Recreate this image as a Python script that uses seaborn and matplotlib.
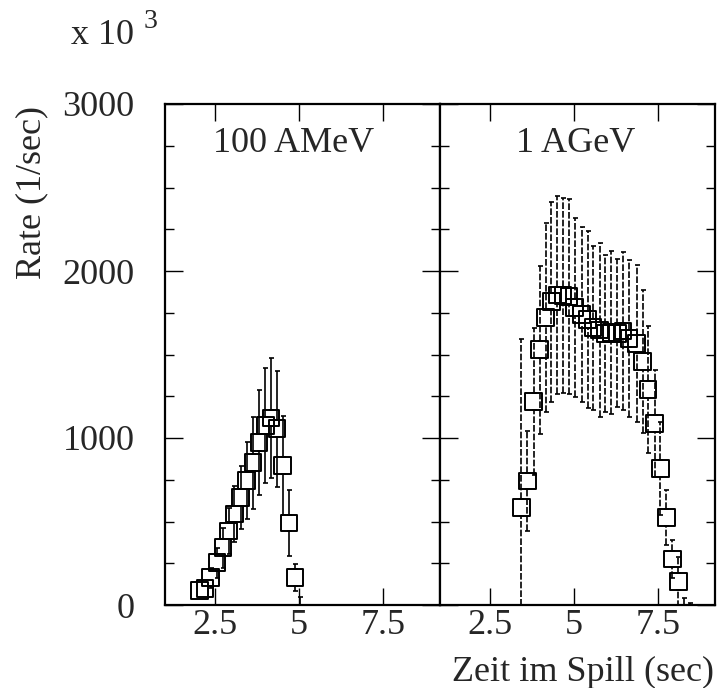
import numpy as np
import pandas as pd
import matplotlib
matplotlib.use("Agg")
import matplotlib.pyplot as plt
import seaborn as sns
from matplotlib.ticker import MultipleLocator, FixedLocator

# ---------------- data ----------------
time_100 = [2.02, 2.19, 2.36, 2.55, 2.73, 2.90, 3.07, 3.26, 3.44, 3.62,
            3.80, 3.99, 4.16, 4.34, 4.51, 4.70, 4.88, 5.03]
rate_100 = [86, 100, 163, 253, 343, 443, 545, 643, 744, 852,
            974, 1074, 1120, 1056, 834, 491, 163, 0]
err_100 = [40, 45, 60, 90, 120, 140, 165, 190, 230, 275,
           316, 346, 359, 347, 297, 196, 82, 48]

time_1g = [3.43, 3.60, 3.79, 3.97, 4.15, 4.32, 4.50, 4.67, 4.85, 5.02,
           5.22, 5.40, 5.56, 5.76, 5.93, 6.11, 6.29, 6.46, 6.64, 6.86,
           7.04, 7.20, 7.40, 7.57, 7.75, 7.93, 8.11, 8.28, 8.45]
rate_1g = [585, 742, 1218, 1529, 1721, 1816, 1856, 1852, 1846, 1780,
           1741, 1711, 1661, 1647, 1627, 1633, 1627, 1641, 1597, 1567,
           1457, 1291, 1088, 818, 523, 275, 140, 0, 0]
err_1g = [1006, 300, 442, 503, 568, 599, 593, 583, 583, 536,
          524, 530, 491, 519, 469, 487, 443, 475, 469, 469,
          429, 380, 319, 280, 166, 114, 150, 40, 14]

panel_titles = ["100 AMeV", "1 AGeV"]
x_ticks = [2.5, 5, 7.5]
x_ticklabels = ["2.5", "5", "7.5"]
y_ticks = [0, 1000, 2000, 3000]
y_ticklabels = ["0", "1000", "2000", "3000"]

# ---------------- style ----------------
sns.set_theme(style="ticks")
plt.rcParams["font.family"] = ["Liberation Serif", "DejaVu Serif"]

W, H = 718, 688
fig = plt.figure(figsize=(W / 100, H / 100), dpi=100)
fig.patch.set_facecolor("white")

def fx(px):
    return px / W

def fy(py):
    return 1 - py / H

ax1 = fig.add_axes([fx(165), fy(605), (440 - 165) / W, (605 - 104) / H])
ax2 = fig.add_axes([fx(440), fy(605), (715 - 440) / W, (605 - 104) / H])

MS = 12  # marker size in points
FS = 26

datasets = [
    (ax1, time_100, rate_100, err_100, "-"),
    (ax2, time_1g, rate_1g, err_1g, (0, (4, 1.2))),
]

for i, (ax, t, r, e, ls) in enumerate(datasets):
    ax.set_facecolor("white")
    ax.set_xlim(1.0, 9.2)
    ax.set_ylim(0, 3000)

    t = np.asarray(t, float)
    r = np.asarray(r, float)
    e = np.asarray(e, float)

    # half marker height in data units (so error bars start at marker edge)
    fig.canvas.draw()
    p0 = ax.transData.transform((0, 0))[1]
    p1 = ax.transData.transform((0, 1000))[1]
    px_per_unit = (p1 - p0) / 1000.0
    half = (MS / 2) * fig.dpi / 72 / px_per_unit

    has_marker = r > 0
    ekw = dict(fmt="none", ecolor="black", elinewidth=1.2, capsize=1.8,
               capthick=1.2, zorder=2)
    up = e > half
    m = has_marker & up
    eb = ax.errorbar(t[m], r[m] + half, yerr=[np.zeros(m.sum()), e[m] - half], **ekw)
    eb[2][0].set_linestyle(ls)
    eb = ax.errorbar(t[m], r[m] - half, yerr=[e[m] - half, np.zeros(m.sum())], **ekw)
    eb[2][0].set_linestyle(ls)
    m0 = ~has_marker
    if m0.any():
        ax.errorbar(t[m0], r[m0], yerr=[np.zeros(m0.sum()), e[m0]], **ekw)

    df = pd.DataFrame({"t": t[has_marker], "rate": r[has_marker]})
    sns.scatterplot(data=df, x="t", y="rate", marker="s", s=MS ** 2,
                    facecolor="none", edgecolor="black", linewidth=1.4,
                    ax=ax, zorder=3, legend=False)

    ax.set_xlabel("")
    ax.set_ylabel("")
    ax.xaxis.set_major_locator(FixedLocator(x_ticks))
    ax.set_xticklabels(x_ticklabels)
    ax.yaxis.set_major_locator(FixedLocator(y_ticks))
    ax.yaxis.set_minor_locator(MultipleLocator(250))
    ax.tick_params(axis="both", which="both", direction="in",
                   top=True, bottom=True, left=True, right=True,
                   width=1.0, color="black")
    ax.tick_params(axis="x", which="major", length=12.5, pad=3,
                   labelsize=FS)
    ax.tick_params(axis="y", which="major", length=13)
    ax.tick_params(axis="y", which="minor", length=6.5)
    if i == 0:
        ax.set_yticklabels(y_ticklabels)
        ax.tick_params(axis="y", labelsize=FS, pad=22)
    else:
        ax.tick_params(axis="y", labelleft=False)
    for s in ax.spines.values():
        s.set_visible(True)
        s.set_linewidth(1.6)
        s.set_color("black")

ax1.text(2.43, 2713, panel_titles[0], fontsize=FS, ha="left", va="baseline")
ax2.text(3.27, 2713, panel_titles[1], fontsize=FS, ha="left", va="baseline")

fig.text(fx(71), fy(44), "x 10", fontsize=FS, ha="left", va="baseline")
fig.text(fx(144), fy(28), "3", fontsize=20, ha="left", va="baseline")
fig.text(fx(32), fy(106), "Rate (1/sec)", fontsize=FS, rotation=90,
         ha="center", va="top")
fig.text(fx(714), fy(681), "Zeit im Spill (sec)", fontsize=FS,
         ha="right", va="baseline")

fig.savefig("out.png", dpi=100, facecolor="white")
